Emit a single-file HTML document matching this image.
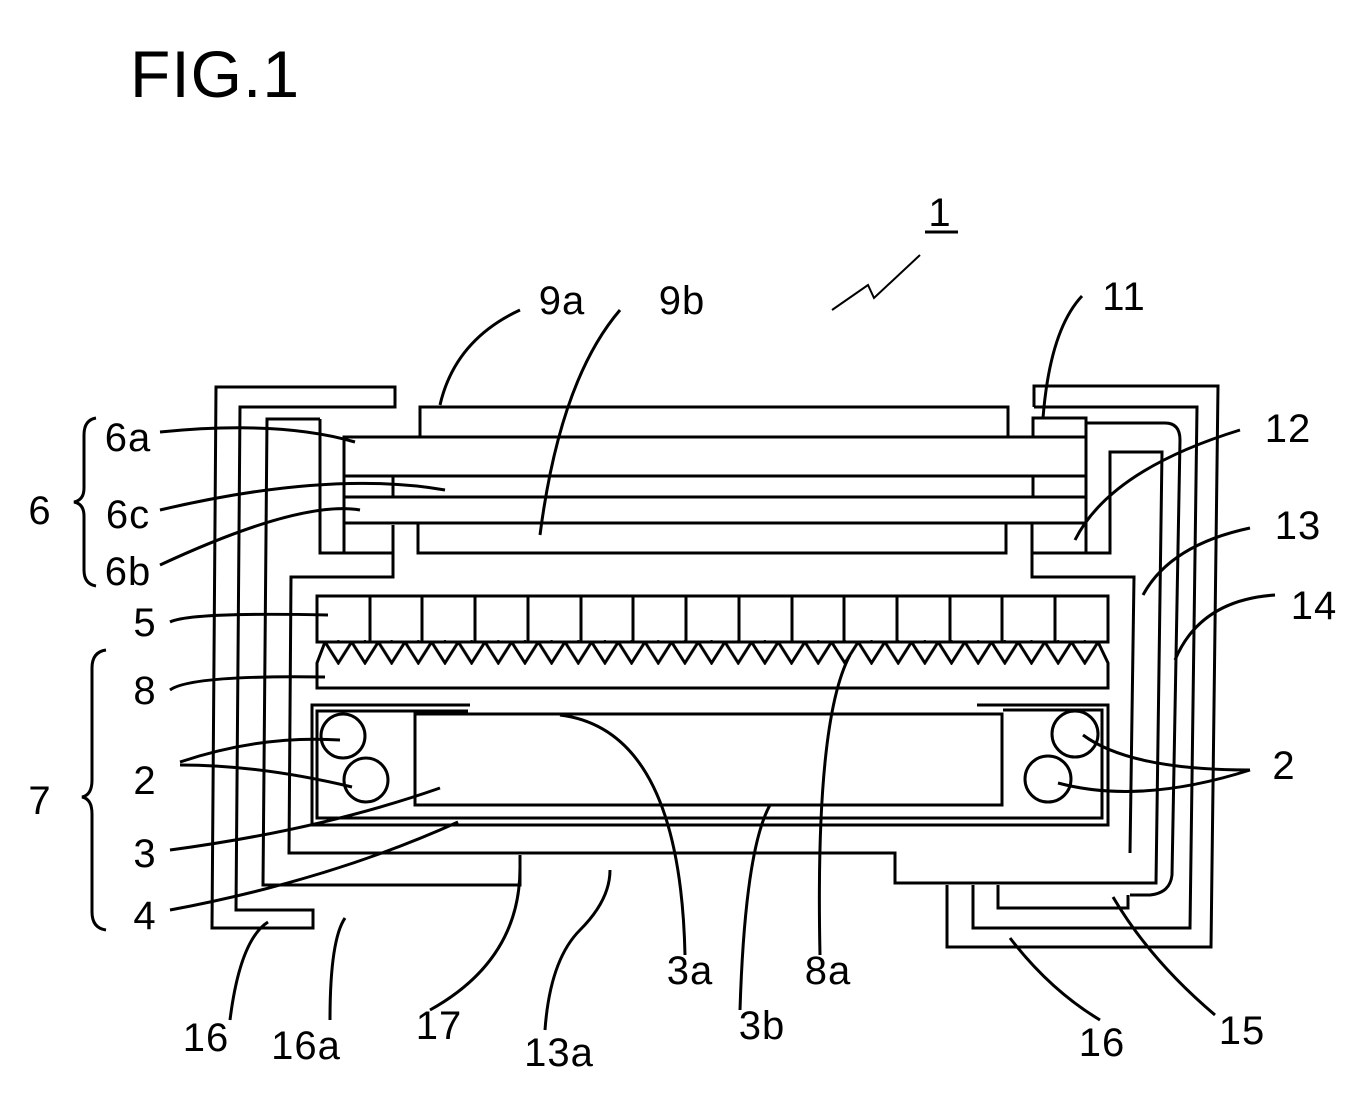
<!DOCTYPE html>
<html><head><meta charset="utf-8"><style>
html,body{margin:0;padding:0;background:#fff;}
svg{display:block;}
text{font-family:"Liberation Sans",sans-serif;fill:#000;}
</style></head><body>
<svg width="1360" height="1112" viewBox="0 0 1360 1112" xmlns="http://www.w3.org/2000/svg">
<defs>
<pattern id="teeth" x="325" y="642" width="26.66" height="24" patternUnits="userSpaceOnUse">
<path d="M0,0 L13.33,21 L26.66,0" fill="none" stroke="#000" stroke-width="3"/>
</pattern>
</defs>
<text x="130" y="97" font-size="66" letter-spacing="1">FIG.1</text>
<g fill="none" stroke="#000" stroke-width="3" stroke-linejoin="miter">
<path d="M395,387 L216,387 L212,928 L313,928 L313,910 L236,910 L240,407 L395,407 Z"/>
<path d="M1034,407 L1034,386 L1218,386 L1211,947 L947,947 L947,885"/>
<path d="M1034,407 L1197,407 L1190,928 L973,928 L973,885"/>
<path d="M320,419 L267,419 L263,885 L520,885 L520,855"/>
<path d="M320,419 L320,553 L393,553"/>
<path d="M393,525 L393,577 L291,577 L289,853 L895,853 L895,883 L1156,883 L1162,452 L1110,452 L1110,553 L1032,553 L1032,577 L1134,577 L1130,853"/>
<path d="M1032,523 L1032,553"/>
<path d="M1086,423 L1165,423 Q1180,423 1180,440 L1172,875 Q1170,893 1150,895 L1130,895"/>
<path d="M1128,895 L1128,908 L998,908 L998,885"/>
<path d="M420,437 L420,407 L1008,407 L1008,437"/>
<path d="M418,523 L418,553 L1006,553 L1006,523"/>
<path d="M344,553 L344,437 L1086,437 L1086,553"/>
<line x1="344" y1="476" x2="1086" y2="476"/>
<line x1="344" y1="497" x2="1086" y2="497"/>
<line x1="344" y1="523" x2="1086" y2="523"/>
<line x1="393" y1="476" x2="393" y2="497"/>
<line x1="1033" y1="476" x2="1033" y2="497"/>
<path d="M1033,437 L1033,418 L1086,418 L1086,437"/>
<rect x="317" y="596" width="791" height="46"/>
<line x1="370" y1="596" x2="370" y2="642"/><line x1="422" y1="596" x2="422" y2="642"/>
<line x1="475" y1="596" x2="475" y2="642"/><line x1="528" y1="596" x2="528" y2="642"/>
<line x1="581" y1="596" x2="581" y2="642"/><line x1="633" y1="596" x2="633" y2="642"/>
<line x1="686" y1="596" x2="686" y2="642"/><line x1="739" y1="596" x2="739" y2="642"/>
<line x1="792" y1="596" x2="792" y2="642"/><line x1="844" y1="596" x2="844" y2="642"/>
<line x1="897" y1="596" x2="897" y2="642"/><line x1="950" y1="596" x2="950" y2="642"/>
<line x1="1002" y1="596" x2="1002" y2="642"/><line x1="1055" y1="596" x2="1055" y2="642"/>
<path d="M325,642 L317,663 L317,688 L1108,688 L1108,663 L1098,642"/>
</g>
<rect x="325" y="640" width="773" height="25" fill="url(#teeth)"/>
<g fill="none" stroke="#000" stroke-width="3">
<path d="M470,705 L312,705 L312,825 L1108,825 L1108,705 L977,705"/>
<path d="M468,711 L317,711 L317,818 L1102,818 L1102,710 L1003,710"/>
<path d="M1002,714 L415,714 L415,805 L1002,805 Z"/>
<circle cx="343" cy="736" r="22"/><circle cx="366" cy="780" r="22"/>
<circle cx="1075" cy="734" r="23"/><circle cx="1048" cy="779" r="23"/>
<path d="M96,418 Q84,420 84,435 L84,488 Q84,500 74,502 Q84,504 84,516 L84,570 Q84,584 96,586"/>
<path d="M106,650 Q92,652 92,668 L92,780 Q92,795 82,797 Q92,799 92,814 L92,912 Q92,928 106,930"/>
<path d="M520,310 Q455,340 440,405"/>
<path d="M620,310 Q560,380 540,535"/>
<path d="M1082,296 Q1050,330 1043,418"/>
<path d="M1240,430 Q1110,470 1075,540"/>
<path d="M1250,528 Q1170,545 1143,595"/>
<path d="M1275,595 Q1200,600 1175,660"/>
<path d="M160,432 Q280,420 355,442"/>
<path d="M160,510 Q330,470 445,490"/>
<path d="M160,565 Q300,500 360,510"/>
<path d="M170,622 Q190,612 328,615"/>
<path d="M170,690 Q190,675 325,677"/>
<path d="M180,762 Q260,735 340,740"/>
<path d="M180,765 Q260,765 352,787"/>
<path d="M170,850 Q320,830 440,788"/>
<path d="M170,910 Q330,880 458,822"/>
<path d="M1250,770 Q1130,770 1083,735"/>
<path d="M1250,770 Q1140,805 1058,783"/>
<path d="M685,955 Q680,730 560,715"/>
<path d="M740,1010 Q745,850 770,805"/>
<path d="M820,955 Q815,720 850,655"/>
<path d="M230,1020 Q240,940 268,922"/>
<path d="M330,1020 Q330,940 345,918"/>
<path d="M430,1010 Q520,960 520,868"/>
<path d="M545,1030 Q550,960 580,930 Q610,900 610,870"/>
<path d="M1100,1020 Q1050,990 1010,938"/>
<path d="M1215,1015 Q1150,960 1113,897"/>
<path d="M832,310 L868,285 L874,298 L920,255" stroke-width="2"/>
<line x1="925" y1="232" x2="958" y2="232"/>
</g>
<g font-size="40" text-anchor="middle" letter-spacing="1">
<text x="940" y="226">1</text>
<text x="562" y="314">9a</text>
<text x="682" y="314">9b</text>
<text x="1124" y="310">11</text>
<text x="1288" y="442">12</text>
<text x="1298" y="539">13</text>
<text x="1314" y="619">14</text>
<text x="128" y="451">6a</text>
<text x="40" y="524">6</text>
<text x="128" y="528">6c</text>
<text x="128" y="585">6b</text>
<text x="145" y="636">5</text>
<text x="145" y="704">8</text>
<text x="40" y="814">7</text>
<text x="145" y="794">2</text>
<text x="145" y="867">3</text>
<text x="145" y="929">4</text>
<text x="1284" y="779">2</text>
<text x="206" y="1051">16</text>
<text x="306" y="1059">16a</text>
<text x="439" y="1039">17</text>
<text x="559" y="1066">13a</text>
<text x="690" y="984">3a</text>
<text x="762" y="1039">3b</text>
<text x="828" y="984">8a</text>
<text x="1102" y="1056">16</text>
<text x="1242" y="1044">15</text>
</g>
</svg>
</body></html>
